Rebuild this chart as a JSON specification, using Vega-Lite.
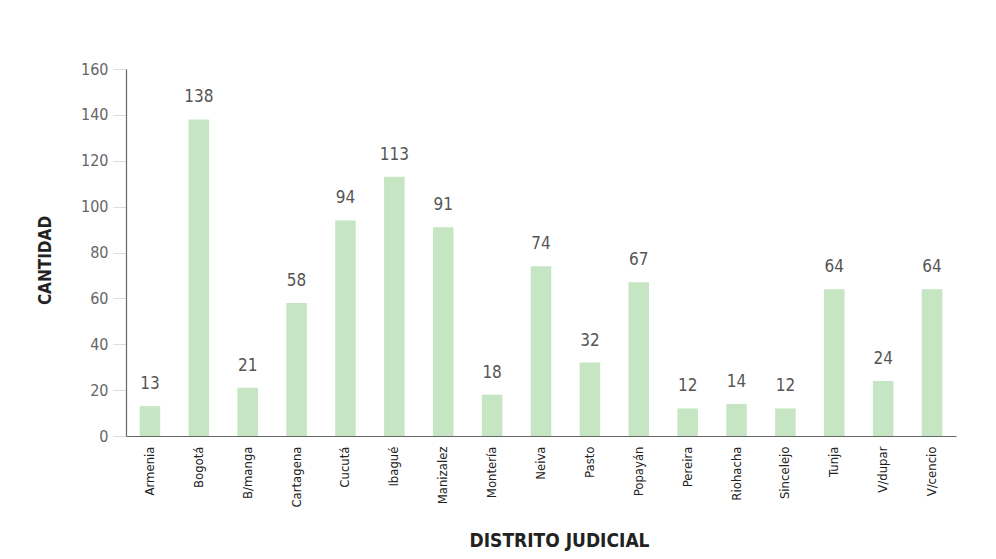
{
  "$schema": "https://vega.github.io/schema/vega-lite/v6.json",
  "autosize": {"type": "none"},
  "padding": {"left": 126, "top": 69, "right": 40, "bottom": 123},
  "width": 830,
  "height": 367,
  "background": "white",
  "config": {"view": {"stroke": null}},
  "data": {"values": [
    {"distrito": "Armenia", "cantidad": 13},
    {"distrito": "Bogotá", "cantidad": 138},
    {"distrito": "B/manga", "cantidad": 21},
    {"distrito": "Cartagena", "cantidad": 58},
    {"distrito": "Cucutá", "cantidad": 94},
    {"distrito": "Ibagué", "cantidad": 113},
    {"distrito": "Manizalez", "cantidad": 91},
    {"distrito": "Montería", "cantidad": 18},
    {"distrito": "Neiva", "cantidad": 74},
    {"distrito": "Pasto", "cantidad": 32},
    {"distrito": "Popayán", "cantidad": 67},
    {"distrito": "Pereira", "cantidad": 12},
    {"distrito": "Riohacha", "cantidad": 14},
    {"distrito": "Sincelejo", "cantidad": 12},
    {"distrito": "Tunja", "cantidad": 64},
    {"distrito": "V/dupar", "cantidad": 24},
    {"distrito": "V/cencio", "cantidad": 64}
  ]},
  "encoding": {
    "x": {
      "field": "distrito", "type": "nominal", "sort": null,
      "scale": {"paddingInner": 0.58, "paddingOuter": 0.28},
      "axis": {
        "title": "DISTRITO JUDICIAL",
        "titleFont": "DejaVu Sans Condensed, Liberation Sans, sans-serif", "titleFontSize": 19, "titleFontWeight": "bold", "titleColor": "#222",
        "titleX": 433, "titleY": 104, "titleBaseline": "middle", "titleAnchor": null, "titleAlign": "center",
        "labelAngle": -90, "labelFont": "DejaVu Sans Condensed, Liberation Sans, sans-serif", "labelFontSize": 13, "labelColor": "#222",
        "labelPadding": 10, "ticks": false, "domainColor": "#666", "domainWidth": 1.2
      }
    },
    "y": {
      "field": "cantidad", "type": "quantitative",
      "scale": {"domain": [0, 160]},
      "axis": {
        "title": "CANTIDAD", "values": [0, 20, 40, 60, 80, 100, 120, 140, 160],
        "titleFont": "DejaVu Sans Condensed, Liberation Sans, sans-serif", "titleFontSize": 17, "titleFontWeight": "bold", "titleColor": "#222",
        "titleX": -81, "titleY": 191, "titleAngle": -90, "titleAlign": "center", "titleBaseline": "middle",
        "labelFont": "DejaVu Sans Condensed, Liberation Sans, sans-serif", "labelFontSize": 16, "labelColor": "#666", "labelPadding": 5,
        "tickSize": 13, "tickColor": "#ddd", "domainColor": "#666", "domainWidth": 1.2, "grid": false
      }
    }
  },
  "layer": [
    {"mark": {"type": "bar", "color": "#c6e5c2"}},
    {"mark": {"type": "text", "dy": -22, "font": "DejaVu Sans Condensed, Liberation Sans, sans-serif", "fontSize": 17, "color": "#555"},
     "encoding": {"text": {"field": "cantidad", "type": "quantitative"}}}
  ]
}
